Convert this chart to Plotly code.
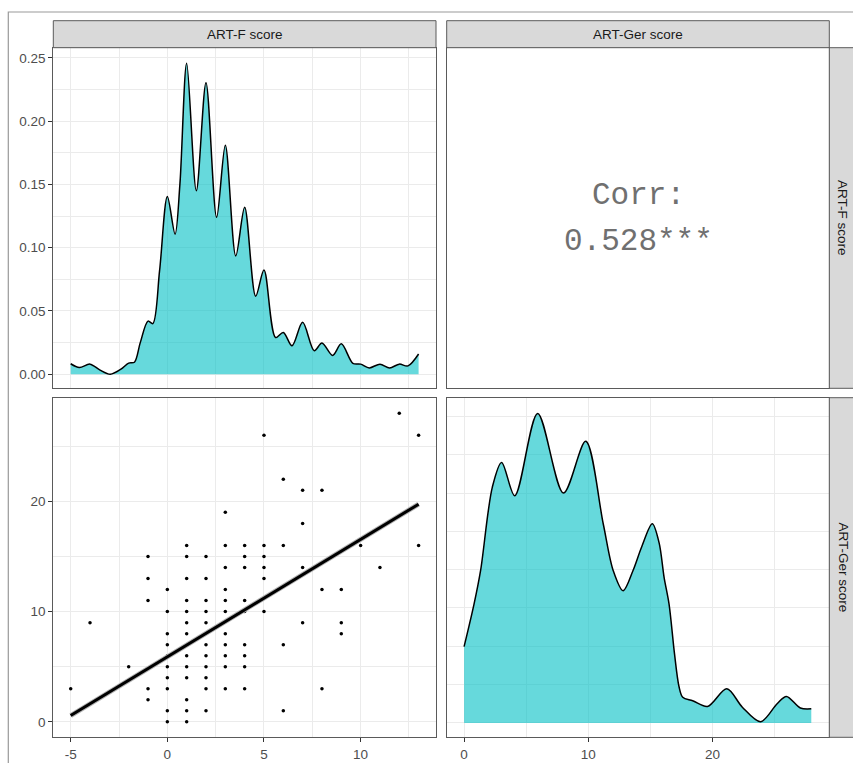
import plotly.graph_objects as go

# ---------------- data ----------------
# ART-F density (top-left diagonal)
artf_x = [-5.0, -4.55, -4.0, -3.5, -2.95, -2.4, -2.0, -1.7, -1.4, -1.0, -0.75, -0.4, 0.0, 0.4,
          0.65, 1.0, 1.5, 2.0, 2.55, 3.0, 3.54, 4.0, 4.57, 5.0, 5.6, 6.0, 6.45, 7.0, 7.6, 8.0,
          8.55, 9.0, 9.6, 10.0, 10.45, 11.0, 11.5, 12.0, 12.45, 13.0]
artf_d = [0.0083, 0.0053, 0.0080, 0.0035, 0.0000, 0.0040, 0.0088, 0.0095, 0.0250, 0.0420, 0.0400,
          0.0820, 0.1404, 0.1107, 0.1500, 0.2458, 0.1450, 0.2304, 0.1240, 0.1810, 0.0935, 0.1320,
          0.0617, 0.0824, 0.0290, 0.0330, 0.0225, 0.0410, 0.0186, 0.0247, 0.0149, 0.0240, 0.0086,
          0.0080, 0.0050, 0.0080, 0.0050, 0.0080, 0.0066, 0.0160]

# ART-Ger density (bottom-right diagonal)
artger_x = [0.0, 0.8, 1.33, 2.27, 3.02, 4.08, 5.92, 8.0, 9.79, 11.2, 12.0, 12.8, 13.6, 14.3,
            15.15, 15.7, 16.1, 16.5, 16.94, 17.3, 17.6, 18.4, 19.6, 21.15, 22.4, 23.87, 25.2,
            25.95, 27.07, 27.95]
artger_d = [0.0199, 0.0310, 0.0398, 0.0615, 0.0680, 0.0593, 0.0808, 0.0600, 0.0735, 0.0520, 0.0398,
            0.0345, 0.0398, 0.0460, 0.0520, 0.0470, 0.0380, 0.0310, 0.0180, 0.0095, 0.0067, 0.0058,
            0.0043, 0.0089, 0.0041, 0.0003, 0.0050, 0.0069, 0.0039, 0.0037]

# scatter: ART-F score (x) vs ART-Ger score (y)
scatter_rows = {
    28: [12],
    26: [5, 13],
    22: [6],
    21: [7, 8],
    19: [3],
    18: [7],
    16: [1, 3, 4, 5, 6, 10, 13],
    15: [-1, 1, 2, 4, 5],
    14: [3, 4, 5, 7, 11],
    13: [-1, 1, 2, 5],
    12: [0, 3, 8, 9],
    11: [-1, 1, 2, 3, 4],
    10: [0, 1, 2, 3, 4, 5],
    9: [-4, 1, 2, 7, 9],
    8: [0, 1, 3, 9],
    7: [0, 2, 3, 4, 6],
    6: [0, 1, 2, 3, 4],
    5: [-2, 0, 1, 2, 3, 4],
    4: [0, 1, 2],
    3: [-5, -1, 0, 2, 3, 4, 8],
    2: [-1, 1],
    1: [0, 1, 2, 6],
    0: [0, 1],
}
art_f = [x for y, xs in scatter_rows.items() for x in xs]
art_ger = [y for y, xs in scatter_rows.items() for x in xs]

# linear fit
fit_slope = 1.065
fit_intercept = 5.9

corr_label = ["Corr:", "0.528***"]
strip_labels = ["ART-F score", "ART-Ger score"]

# ---------------- layout helpers ----------------
W, H = 853, 763
def fx(p): return p / W
def fy(p): return 1 - p / H

col1 = [fx(53.3), fx(436.0)]
col2 = [fx(446.7), fx(829.3)]
row1 = [fy(388.3), fy(47.7)]
row2 = [fy(737.3), fy(397.7)]

FILL = "rgba(0,191,196,0.6)"
GRID = "#ebebeb"
BORDER = "#5a5a5a"
TICKFONT = dict(family="Liberation Sans, Arial, sans-serif", size=13.5, color="#4d4d4d")

fig = go.Figure()

# top-left density
fig.add_trace(go.Scatter(x=artf_x, y=artf_d, mode="lines", line=dict(color="black", width=1.5, shape="spline", smoothing=0.9),
                         fill="tozeroy", fillcolor=FILL, xaxis="x", yaxis="y", showlegend=False, hoverinfo="skip"))
# top-right (correlation) panel: empty trace so the axes/border are drawn
fig.add_trace(go.Scatter(x=[None], y=[None], mode="markers", xaxis="x2", yaxis="y2", showlegend=False, hoverinfo="skip"))
# bottom-left scatter
fig.add_trace(go.Scatter(x=art_f, y=art_ger, mode="markers", marker=dict(color="black", size=3.5),
                         xaxis="x3", yaxis="y3", showlegend=False))
fx_line = [min(art_f), max(art_f)]
fy_line = [fit_intercept + fit_slope * v for v in fx_line]
fig.add_trace(go.Scatter(x=fx_line, y=fy_line, mode="lines", line=dict(color="#b3b3b3", width=5),
                         xaxis="x3", yaxis="y3", showlegend=False, hoverinfo="skip"))
fig.add_trace(go.Scatter(x=fx_line, y=fy_line, mode="lines", line=dict(color="black", width=3),
                         xaxis="x3", yaxis="y3", showlegend=False, hoverinfo="skip"))
# bottom-right density
fig.add_trace(go.Scatter(x=artger_x, y=artger_d, mode="lines", line=dict(color="black", width=1.5, shape="spline", smoothing=0.9),
                         fill="tozeroy", fillcolor=FILL, xaxis="x4", yaxis="y4", showlegend=False, hoverinfo="skip"))

def ax(domain, rng, anchor, tickvals=None, ticktext=None, minor_dtick=None, labels=True, grid=True):
    d = dict(domain=domain, range=rng, anchor=anchor, showline=True, mirror=True, linecolor=BORDER,
             linewidth=1, zeroline=False, showgrid=grid, gridcolor=GRID, gridwidth=1.1,
             tickfont=TICKFONT, fixedrange=True)
    if tickvals is not None:
        d.update(tickmode="array", tickvals=tickvals)
        if ticktext is not None:
            d["ticktext"] = ticktext
    if minor_dtick is not None and grid:
        d["minor"] = dict(dtick=minor_dtick, tick0=0, showgrid=True, gridcolor=GRID, gridwidth=0.6, ticks="")
    if labels:
        d.update(ticks="outside", ticklen=4, tickcolor="#333333", tickwidth=1, showticklabels=True)
    else:
        d.update(ticks="", showticklabels=False)
    return d

fig.update_layout(
    width=W, height=H, margin=dict(l=0, r=0, t=0, b=0),
    paper_bgcolor="white", plot_bgcolor="white",
    xaxis=ax(col1, [-5.9, 13.9], "y", tickvals=[-5, 0, 5, 10], minor_dtick=2.5, labels=False),
    yaxis=ax(row1, [-0.0111, 0.258], "x", tickvals=[0, 0.05, 0.10, 0.15, 0.20, 0.25],
             ticktext=["0.00", "0.05", "0.10", "0.15", "0.20", "0.25"], minor_dtick=0.025),
    xaxis2=ax(col2, [0, 1], "y2", labels=False, grid=False),
    yaxis2=ax(row1, [0, 1], "x2", labels=False, grid=False),
    xaxis3=ax(col1, [-5.9, 13.9], "y3", tickvals=[-5, 0, 5, 10], ticktext=["-5", "0", "5", "10"], minor_dtick=2.5),
    yaxis3=ax(row2, [-1.4, 29.4], "x3", tickvals=[0, 10, 20], minor_dtick=5),
    xaxis4=ax(col2, [-1.4, 29.4], "y4", tickvals=[0, 10, 20], minor_dtick=5),
    yaxis4=ax(row2, [-0.00376, 0.0849], "x4", tickvals=[0, 0.02, 0.04, 0.06, 0.08], minor_dtick=0.01, labels=False),
)

shapes = []
# outer frame (screenshot border)
shapes.append(dict(type="path", xref="paper", yref="paper",
                   path=f"M {fx(8.3)},{fy(770)} L {fx(8.3)},{fy(12)} L {fx(860)},{fy(12)}",
                   line=dict(color="#9a9a9a", width=1.2)))
# strips
strip_style = dict(type="rect", xref="paper", yref="paper", fillcolor="#d9d9d9", line=dict(color=BORDER, width=1), layer="above")
for c in (col1, col2):
    shapes.append(dict(strip_style, x0=c[0], x1=c[1], y0=fy(47.7), y1=fy(20.7)))
for r in (row1, row2):
    shapes.append(dict(strip_style, x0=fx(829.3), x1=fx(870), y0=r[0], y1=r[1]))
fig.update_layout(shapes=shapes)

STRIPFONT = dict(family="Liberation Sans, Arial, sans-serif", size=13.5, color="#1a1a1a")
ann = []
for c, lab in zip((col1, col2), strip_labels):
    ann.append(dict(x=(c[0] + c[1]) / 2, y=fy(34.2), xref="paper", yref="paper", text=lab,
                    showarrow=False, font=STRIPFONT, xanchor="center", yanchor="middle"))
for r, lab in zip((row1, row2), strip_labels):
    ann.append(dict(x=fx(843), y=(r[0] + r[1]) / 2, xref="paper", yref="paper", text=lab, textangle=90,
                    showarrow=False, font=STRIPFONT, xanchor="center", yanchor="middle"))
CORRFONT = dict(family="Liberation Mono, Courier New, monospace", size=31, color="#707070")
cx = (col2[0] + col2[1]) / 2
ann.append(dict(x=cx, y=fy(195), xref="paper", yref="paper", text=corr_label[0],
                showarrow=False, font=CORRFONT, xanchor="center", yanchor="middle"))
ann.append(dict(x=cx, y=fy(241.7), xref="paper", yref="paper", text=corr_label[1],
                showarrow=False, font=CORRFONT, xanchor="center", yanchor="middle"))
fig.update_layout(annotations=ann)

fig.write_html("out.html", config={"displayModeBar": False},
               post_script="document.body.style.margin='0';document.body.style.overflow='hidden';")
